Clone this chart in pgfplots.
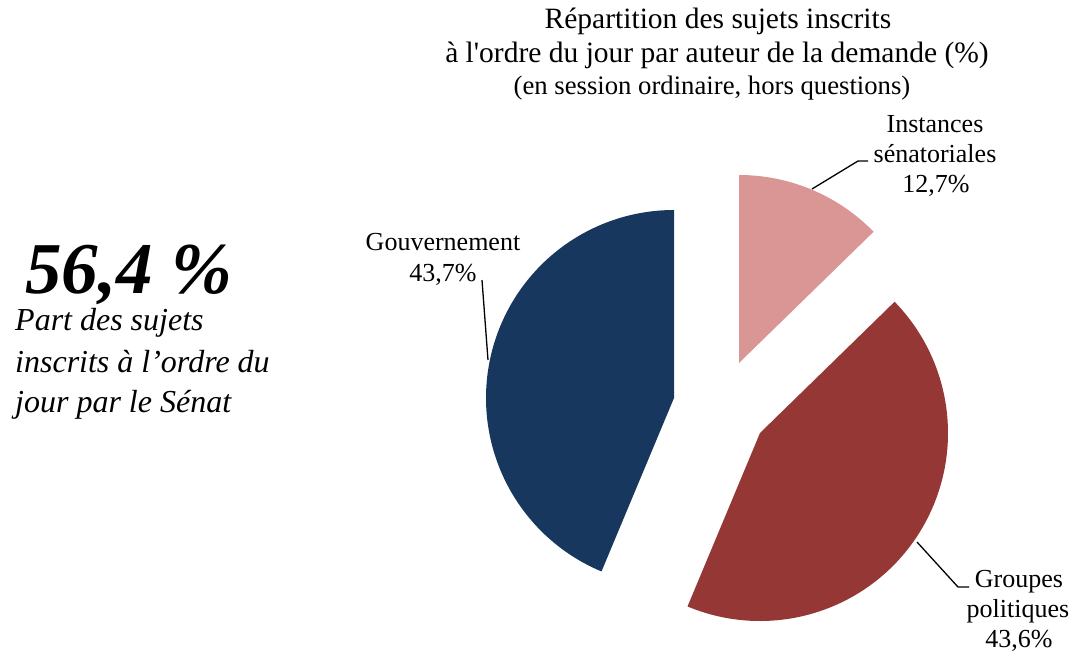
\documentclass[border=0pt]{standalone}
\usepackage{fontspec}
\setmainfont{Liberation Serif}
\usepackage{pgfplots}
\usepackage{pgfplotstable}
\pgfplotsset{compat=1.18}
\definecolor{cGouv}{HTML}{17375E}
\definecolor{cGroup}{HTML}{953735}
\definecolor{cInst}{HTML}{D99694}

% share of each requester (%) and the vertex of each exploded slice (px)
\pgfplotstableread{
label value cx cy
Instances 12.7 739 363
Groupes 43.6 760 433
Gouvernement 43.7 674 398
}\piedata

\pgfplotstablegetelem{0}{value}\of\piedata \let\vA\pgfplotsretval
\pgfplotstablegetelem{1}{value}\of\piedata \let\vB\pgfplotsretval
\pgfplotstablegetelem{2}{value}\of\piedata \let\vC\pgfplotsretval
\pgfplotstablegetelem{0}{cx}\of\piedata \let\xA\pgfplotsretval
\pgfplotstablegetelem{1}{cx}\of\piedata \let\xB\pgfplotsretval
\pgfplotstablegetelem{2}{cx}\of\piedata \let\xC\pgfplotsretval
\pgfplotstablegetelem{0}{cy}\of\piedata \let\yA\pgfplotsretval
\pgfplotstablegetelem{1}{cy}\of\piedata \let\yB\pgfplotsretval
\pgfplotstablegetelem{2}{cy}\of\piedata \let\yC\pgfplotsretval

\pgfmathsetmacro{\aZero}{90}
\pgfmathsetmacro{\aOne}{\aZero-3.6*\vA}
\pgfmathsetmacro{\aTwo}{\aOne-3.6*\vB}
\pgfmathsetmacro{\aThree}{\aTwo-3.6*\vC}
\def\R{188}

\newcommand{\ttl}{\fontsize{29.5bp}{33bp}\selectfont}
\newcommand{\ttlb}{\fontsize{26.7bp}{30bp}\selectfont}
\newcommand{\lbl}{\fontsize{26bp}{30bp}\selectfont}

\begin{document}
\begin{tikzpicture}
\useasboundingbox (0,0) rectangle (1075bp,655bp);
\begin{axis}[
  at={(0,0)}, anchor=south west,
  scale only axis, width=1075bp, height=655bp,
  xmin=0, xmax=1075, ymin=0, ymax=655, y dir=reverse,
  hide axis, clip=false,
]
% slices
\addplot[draw=none, fill=cInst, domain=\aOne:\aZero, samples=120, variable=\t]
  ({\xA+\R*cos(\t)}, {\yA-\R*sin(\t)}) -- (axis cs:739,363) -- cycle;
\addplot[draw=none, fill=cGroup, domain=\aTwo:\aOne, samples=200, variable=\t]
  ({\xB+\R*cos(\t)}, {\yB-\R*sin(\t)}) -- (axis cs:760,433) -- cycle;
\addplot[draw=none, fill=cGouv, domain=\aThree:\aTwo, samples=200, variable=\t]
  ({\xC+\R*cos(\t)}, {\yC-\R*sin(\t)}) -- (axis cs:674,398) -- cycle;

% leader lines
\addplot[black, line width=1.3bp, mark=none] coordinates {(812,189) (858,161) (868,161)};
\addplot[black, line width=1.3bp, mark=none] coordinates {(482,280) (488,360)};
\addplot[black, line width=1.3bp, mark=none] coordinates {(917,542) (958,587) (969,587)};

% title
\node[anchor=base, inner sep=0] at (axis cs:718,29) {\ttl Répartition des sujets inscrits};
\node[anchor=base, inner sep=0] at (axis cs:717,63) {\ttl à l\textquotesingle ordre du jour par auteur de la demande (\%)};
\node[anchor=base, inner sep=0] at (axis cs:712,95) {\ttlb (en session ordinaire, hors questions)};

% slice labels
\node[anchor=base, inner sep=0] at (axis cs:935,132) {\lbl Instances};
\node[anchor=base, inner sep=0] at (axis cs:935,162) {\lbl sénatoriales};
\node[anchor=base, inner sep=0] at (axis cs:936,192) {\lbl 12,7\%};
\node[anchor=base, inner sep=0] at (axis cs:443,250) {\lbl Gouvernement};
\node[anchor=base, inner sep=0] at (axis cs:443,281) {\lbl 43,7\%};
\node[anchor=base, inner sep=0] at (axis cs:1019,587) {\lbl Groupes};
\node[anchor=base, inner sep=0] at (axis cs:1018,617) {\lbl politiques};
\node[anchor=base, inner sep=0] at (axis cs:1019,647) {\lbl 43,6\%};

% key figure
\node[anchor=base west, inner sep=0] at (axis cs:25,293) {\fontsize{73bp}{80bp}\selectfont\bfseries\itshape 56,4 \%};
\node[anchor=base west, inner sep=0] at (axis cs:15,330) {\fontsize{32bp}{40bp}\selectfont\itshape Part des sujets};
\node[anchor=base west, inner sep=0] at (axis cs:15,372) {\fontsize{32bp}{40bp}\selectfont\itshape inscrits à l’ordre du};
\node[anchor=base west, inner sep=0] at (axis cs:15,412) {\fontsize{32bp}{40bp}\selectfont\itshape jour par le Sénat};
\end{axis}
\end{tikzpicture}
\end{document}
